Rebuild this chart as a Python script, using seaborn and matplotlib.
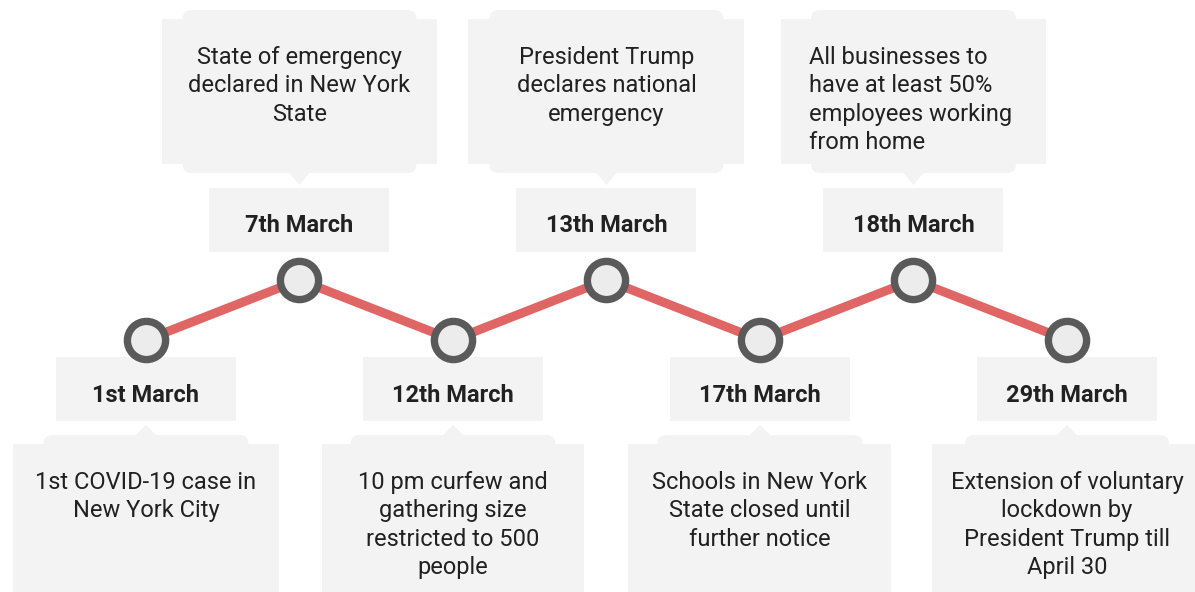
import matplotlib
matplotlib.use("Agg")
import matplotlib.pyplot as plt
from matplotlib.patches import Rectangle, FancyBboxPatch, Polygon
from matplotlib.transforms import Affine2D, ScaledTranslation
import seaborn as sns
import pandas as pd

# Timeline data
dates = ["1st March", "7th March", "12th March", "13th March",
         "17th March", "18th March", "29th March"]
events = [
    "1st COVID-19 case in\nNew York City",
    "State of emergency\ndeclared in New York\nState",
    "10 pm curfew and\ngathering size\nrestricted to 500\npeople",
    "President Trump\ndeclares national\nemergency",
    "Schools in New York\nState closed until\nfurther notice",
    "All businesses to\nhave at least 50%\nemployees working\nfrom home",
    "Extension of voluntary\nlockdown by\nPresident Trump till\nApril 30",
]
levels = [0, 1, 0, 1, 0, 1, 0]  # 0 = below the line, 1 = above

df = pd.DataFrame({"pos": range(len(dates)), "level": levels,
                   "date": dates, "event": events})

# layout (pixels)
W, H = 1195, 592
X0, DX = 146, 153.5
Y0, DY = 340, 60
wide_w = [265, 275, 262, 276, 263, 265, 269]
inner_w = [205, 234, 205, 234, 205, 205, 204]
left_text = [False, False, False, False, False, True, False]

sns.set_style("white")
plt.rcParams["font.family"] = ["Roboto", "DejaVu Sans"]

fig = plt.figure(figsize=(W / 100, H / 100), dpi=100)
ax = fig.add_axes([0, 0, 1, 1])
ax.set_xlim(-X0 / DX, (W - X0) / DX)
ax.set_ylim((Y0 - H) / DY, Y0 / DY)
ax.axis("off")

box_col = "#f3f3f3"
txt_col = "#212121"

sns.lineplot(data=df, x="pos", y="level", color="#e06666", linewidth=6.5,
             ax=ax, zorder=2, solid_capstyle="butt")
sns.scatterplot(data=df, x="pos", y="level", s=27.5 ** 2, color="#ececec",
                edgecolor="#5a5a5a", linewidth=5.3, ax=ax, zorder=3)


def local(x, y):
    # pixel offsets (y pointing down) around a data point
    return (Affine2D().scale(1 / 100, -1 / 100) + fig.dpi_scale_trans
            + ScaledTranslation(x, y, ax.transData))


for i, row in df.iterrows():
    t = local(row["pos"], row["level"])
    ww, iw = wide_w[i], inner_w[i]
    if row["level"] == 0:
        date_cy = 49
        tip, base = 85, 95
        ax.add_patch(FancyBboxPatch((-iw / 2, base), iw, 300,
                                    boxstyle="round,pad=0,rounding_size=9",
                                    fc=box_col, ec="none", transform=t, zorder=1))
        ax.add_patch(Rectangle((-ww / 2, base + 9), ww, 300, fc=box_col,
                               ec="none", transform=t, zorder=1))
        text_y = 131
    else:
        date_cy = -60
        tip, base = -95, -107
        ax.add_patch(FancyBboxPatch((-iw / 2, -270), iw, 163,
                                    boxstyle="round,pad=0,rounding_size=9",
                                    fc=box_col, ec="none", transform=t, zorder=1))
        ax.add_patch(Rectangle((-ww / 2, -261), ww, 145, fc=box_col,
                               ec="none", transform=t, zorder=1))
        text_y = -234
    ax.add_patch(Polygon([(-10, base), (10, base), (0, tip)], closed=True,
                         fc=box_col, ec="none", transform=t, zorder=1))
    # date label
    ax.add_patch(Rectangle((-90, date_cy - 32), 180, 64, fc=box_col,
                           ec="none", transform=t, zorder=1))
    ax.text(0, date_cy + 6, row["date"], transform=t, ha="center", va="center",
            fontsize=17, fontweight="bold", color=txt_col, zorder=4)
    # description
    if left_text[i]:
        ax.text(-104, text_y, row["event"], transform=t, ha="left", va="top",
                fontsize=17, color=txt_col, linespacing=1.3, zorder=4)
    else:
        ax.text(0, text_y, row["event"], transform=t, ha="center", va="top",
                fontsize=17, color=txt_col, linespacing=1.3,
                multialignment="center", zorder=4)

fig.savefig("out.png", dpi=100, facecolor="white")
